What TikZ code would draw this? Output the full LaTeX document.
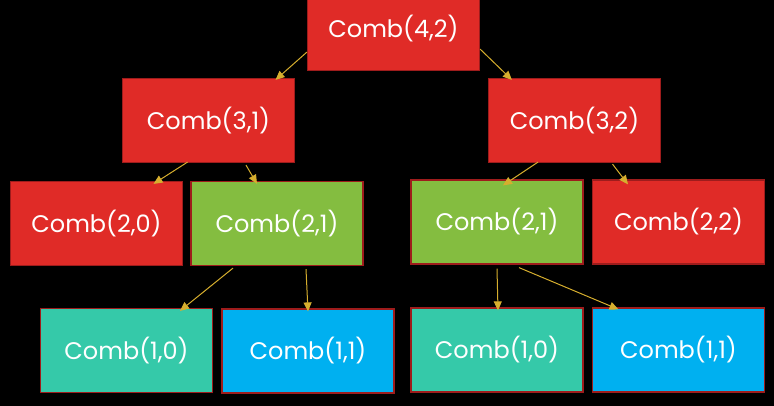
\documentclass[tikz,border=0pt]{standalone}
\usepackage{fontspec}
\setmainfont{Poppins}
\usetikzlibrary{arrows.meta,calc}
\definecolor{bred}{HTML}{E02B27}
\definecolor{bgreen}{HTML}{84BD40}
\definecolor{bteal}{HTML}{35C9A9}
\definecolor{bblue}{HTML}{00B0F0}
\definecolor{bborder}{HTML}{9E1C1C}
\definecolor{barrow}{HTML}{D6AE2E}
\tikzset{
  combbox/.style={draw=bborder, line width=1.2pt, minimum width=172pt, minimum height=84pt,
    inner sep=0pt, text=white, font=\fontsize{24}{28}\selectfont},
  redbox/.style={combbox, fill=bred},
  greenbox/.style={combbox, fill=bgreen},
  tealbox/.style={combbox, fill=bteal},
  bluebox/.style={combbox, fill=bblue},
  conn/.style={draw=barrow, line width=1pt, -{Triangle[length=9pt,width=8pt]}}
}
\begin{document}
\begin{tikzpicture}[x=1pt,y=-1pt]
\useasboundingbox (0,0) rectangle (774,406);
\clip (0,0) rectangle (774,406);
\fill[black] (0,0) rectangle (774,406);
\node[redbox] (c42) at (393.5,28.5) {Comb(4,2)};
\node[redbox] (c31) at (208.5,120.5) {Comb(3,1)};
\node[redbox] (c32) at (574.5,120.5) {Comb(3,2)};
\node[redbox] (c20) at (96.5,223.5) {Comb(2,0)};
\node[greenbox] (c21L) at (277,223.5) {Comb(2,1)};
\node[greenbox] (c21R) at (497,222) {Comb(2,1)};
\node[redbox] (c22) at (678.5,222) {Comb(2,2)};
\node[tealbox] (c10L) at (126.5,350.5) {Comb(1,0)};
\node[bluebox] (c11L) at (308,351) {Comb(1,1)};
\node[tealbox] (c10R) at (497,350) {Comb(1,0)};
\node[bluebox] (c11R) at (678.5,350) {Comb(1,1)};
\draw[conn] ($(c42.south west)+(0,-19)$) -- ($(c31.north)+(67,2)$);
\draw[conn] ($(c42.south east)+(0,-22)$) -- ($(c32.north west)+(24,2)$);
\draw[conn] ($(c31.south)+(-21,-1)$) -- ($(c20.north)+(57,3)$);
\draw[conn] ($(c31.south)+(37.5,2)$) -- ($(c21L.north)+(-20,3)$);
\draw[conn] ($(c32.south)+(-36.5,-1)$) -- ($(c21R.north)+(6,6)$);
\draw[conn] ($(c32.south)+(38,1)$) -- ($(c22.north)+(-50.5,5)$);
\draw[conn] ($(c21L.south)+(-44,2)$) -- ($(c10L.north)+(53.5,3)$);
\draw[conn] ($(c21L.south)+(29,3)$) -- ($(c11L.north)+(0,3)$);
\draw[conn] ($(c21R.south)+(0,4)$) -- ($(c10R.north)+(1,3)$);
\draw[conn] ($(c21R.south)+(22,3)$) -- ($(c11R.north)+(-60,2)$);
\end{tikzpicture}
\end{document}
